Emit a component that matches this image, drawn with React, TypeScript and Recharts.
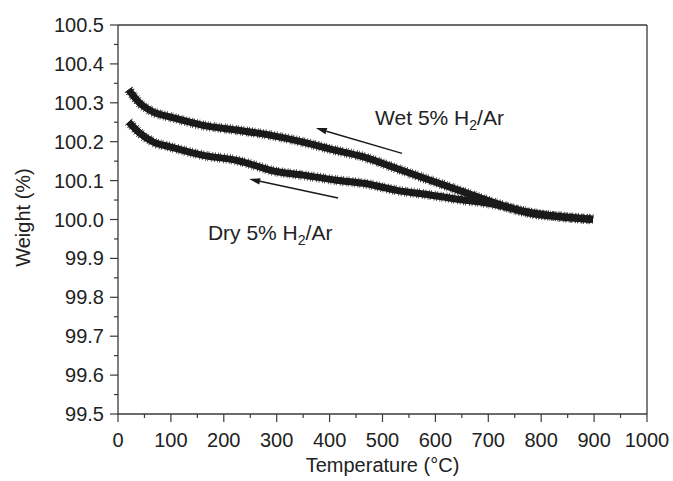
import { ComposedChart, Line, XAxis, YAxis, ReferenceLine, ReferenceDot } from "recharts";

// readings taken off the TGA trace (temperature in °C, weight in %)
const wetTemp = [20, 42, 67, 98, 161, 224, 287, 350, 401, 464, 527, 590, 653, 716, 779, 842, 898];
const wetWeight = [100.334, 100.298, 100.276, 100.264, 100.242, 100.23, 100.217, 100.199, 100.181, 100.161, 100.131, 100.101, 100.071, 100.041, 100.016, 100.007, 100.001];

const dryTemp = [20, 42, 67, 98, 161, 224, 268, 287, 350, 413, 464, 527, 590, 653, 703, 779, 842, 898];
const dryWeight = [100.251, 100.221, 100.199, 100.187, 100.165, 100.152, 100.135, 100.127, 100.114, 100.101, 100.093, 100.075, 100.063, 100.05, 100.041, 100.018, 100.006, 100.0];

const xTicks = [0, 50, 100, 150, 200, 250, 300, 350, 400, 450, 500, 550, 600, 650, 700, 750, 800, 850, 900, 950, 1000];
const xMajorTicks = [0, 100, 200, 300, 400, 500, 600, 700, 800, 900, 1000];
const yTicks = [99.5, 99.55, 99.6, 99.65, 99.7, 99.75, 99.8, 99.85, 99.9, 99.95, 100.0, 100.05, 100.1, 100.15, 100.2, 100.25, 100.3, 100.35, 100.4, 100.45, 100.5];
const yMajorTicks = [99.5, 99.6, 99.7, 99.8, 99.9, 100.0, 100.1, 100.2, 100.3, 100.4, 100.5];

const wetData = wetTemp.map((t, i) => ({ t, w: wetWeight[i] }));
const dryData = dryTemp.map((t, i) => ({ t, w: dryWeight[i] }));

const ink = "#1a1a1a";
const axisColor = "#3a3a3a";
const textColor = "#222";
const font = "'Liberation Sans', Arial, sans-serif";
const fontSize = 20;

const isMajorX = (v: number) => v % 100 === 0;
const isMajorY = (v: number) => Math.abs(v * 10 - Math.round(v * 10)) < 1e-6;

function BottomTick({ x, y, payload }: any) {
  const major = isMajorX(payload.value);
  return (
    <g>
      <line x1={x} x2={x} y1={y} y2={y + (major ? 8 : 4)} stroke={axisColor} strokeWidth={1.2} />
      {major && (
        <text x={x} y={y + 33} textAnchor="middle" fontSize={fontSize} fill={textColor} fontFamily={font}>
          {payload.value}
        </text>
      )}
    </g>
  );
}

function LeftTick({ x, y, payload }: any) {
  const major = isMajorY(payload.value);
  return (
    <g>
      <line x1={x - (major ? 8 : 4)} x2={x} y1={y} y2={y} stroke={axisColor} strokeWidth={1.2} />
      {major && (
        <text x={x - 14} y={y + 7} textAnchor="end" fontSize={fontSize} fill={textColor} fontFamily={font}>
          {payload.value.toFixed(1)}
        </text>
      )}
    </g>
  );
}

function TopTick({ x, y }: any) {
  return <line x1={x} x2={x} y1={y} y2={y + 3} stroke={axisColor} strokeWidth={1.2} />;
}

function RightTick({ x, y }: any) {
  return <line x1={x - 3} x2={x} y1={y} y2={y} stroke={axisColor} strokeWidth={1.2} />;
}

function XTitle({ viewBox }: any) {
  return (
    <text x={viewBox.x + viewBox.width / 2} y={viewBox.y + 58} textAnchor="middle" fontSize={fontSize} fill={textColor} fontFamily={font}>
      Temperature (°C)
    </text>
  );
}

function YTitle({ viewBox }: any) {
  const cx = viewBox.x + 30;
  const cy = viewBox.y + viewBox.height / 2 - 2;
  return (
    <text x={cx} y={cy} transform={`rotate(-90, ${cx}, ${cy})`} textAnchor="middle" fontSize={fontSize} fill={textColor} fontFamily={font}>
      Weight (%)
    </text>
  );
}

function gasLabel(prefix: string) {
  return ({ cx, cy }: any) => (
    <text x={cx} y={cy} fontSize={21} fill={textColor} fontFamily={font}>
      {prefix} 5% H
      <tspan dy={5} fontSize={14}>2</tspan>
      <tspan dy={-5}>/Ar</tspan>
    </text>
  );
}

function Arrow(props: any) {
  const { x1, y1, x2, y2 } = props;
  const a = Math.atan2(y2 - y1, x2 - x1);
  const len = 11;
  const half = 3.2;
  const bx = x2 - len * Math.cos(a);
  const by = y2 - len * Math.sin(a);
  const pts = `${x2},${y2} ${bx - half * Math.sin(a)},${by + half * Math.cos(a)} ${bx + half * Math.sin(a)},${by - half * Math.cos(a)}`;
  return (
    <g>
      <line x1={x1} y1={y1} x2={bx} y2={by} stroke={ink} strokeWidth={1.5} />
      <polygon points={pts} fill={ink} />
    </g>
  );
}

export default function App() {
  return (
    <div style={{ position: "absolute", left: 0, top: 0, background: "#fff" }}>
      <ComposedChart width={673} height={481} margin={{ top: 0, right: 0, bottom: 0, left: 0 }}>
        <XAxis
          xAxisId="top"
          orientation="top"
          type="number"
          domain={[0, 1000]}
          ticks={xMajorTicks}
          height={25}
          tickSize={0}
          tickMargin={0}
          tickLine={false}
          tick={<TopTick />}
          axisLine={{ stroke: axisColor, strokeWidth: 1.3 }}
        />
        <XAxis
          dataKey="t"
          type="number"
          domain={[0, 1000]}
          ticks={xTicks}
          height={67}
          tickSize={0}
          tickMargin={0}
          tickLine={false}
          tick={<BottomTick />}
          interval={0}
          axisLine={{ stroke: axisColor, strokeWidth: 1.3 }}
          label={<XTitle />}
        />
        <YAxis
          type="number"
          domain={[99.5, 100.5]}
          ticks={yTicks}
          width={118}
          tickSize={0}
          tickMargin={0}
          tickLine={false}
          tick={<LeftTick />}
          interval={0}
          allowDataOverflow
          axisLine={{ stroke: axisColor, strokeWidth: 1.3 }}
          label={<YTitle />}
        />
        <YAxis
          yAxisId="right"
          orientation="right"
          type="number"
          domain={[99.5, 100.5]}
          ticks={yMajorTicks}
          width={26}
          tickSize={0}
          tickMargin={0}
          tickLine={false}
          tick={<RightTick />}
          interval={0}
          axisLine={{ stroke: axisColor, strokeWidth: 1.3 }}
        />
        <Line data={wetData} dataKey="w" type="monotone" stroke={ink} strokeWidth={7} dot={false} isAnimationActive={false} />
        <Line data={wetData} dataKey="w" type="monotone" stroke={ink} strokeWidth={10} strokeDasharray="0.7 1.8 0.7 3 0.7 1.2 0.7 2.4" dot={false} isAnimationActive={false} />
        <Line data={dryData} dataKey="w" type="monotone" stroke={ink} strokeWidth={7} dot={false} isAnimationActive={false} />
        <Line data={dryData} dataKey="w" type="monotone" stroke={ink} strokeWidth={10} strokeDasharray="0.7 2.6 0.7 1.4 0.7 3.2 0.7 1.9" dot={false} isAnimationActive={false} />
        <ReferenceLine segment={[{ x: 537, y: 100.17 }, { x: 374, y: 100.235 }]} shape={Arrow} />
        <ReferenceLine segment={[{ x: 416, y: 100.055 }, { x: 248, y: 100.104 }]} shape={Arrow} />
        <ReferenceDot x={486} y={100.242} r={0} shape={gasLabel("Wet")} />
        <ReferenceDot x={170} y={99.947} r={0} shape={gasLabel("Dry")} />
      </ComposedChart>
    </div>
  );
}
